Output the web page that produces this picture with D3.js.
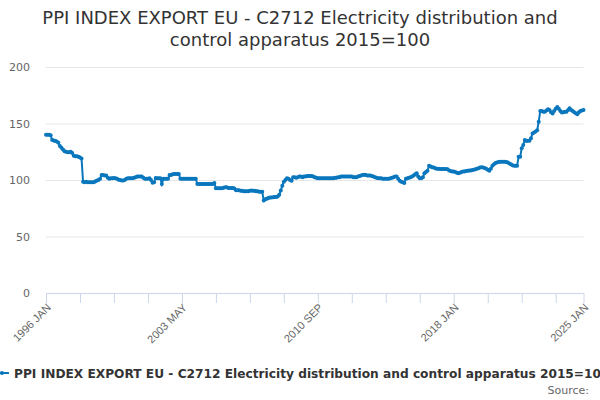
<!DOCTYPE html>
<html>
<head>
<meta charset="utf-8">
<script src="https://cdn.jsdelivr.net/npm/d3@7"></script>
<style>
  body { margin: 0; background: #fff; }
  svg { font-family: "DejaVu Sans", sans-serif; display: block; }
  .grid line { stroke: #e6e6e6; }
  .grid path { display: none; }
  .ylab text { fill: #666; font-size: 11px; }
  .xaxis path, .xaxis line { stroke: #ccd6eb; }
  .xaxis text { fill: #666; font-size: 11px; }
</style>
</head>
<body>
<div id="chart"></div>
<script>
var seriesName = "PPI INDEX EXPORT EU - C2712 Electricity distribution and control apparatus 2015=100";
var titleLines = ["PPI INDEX EXPORT EU - C2712 Electricity distribution and", "control apparatus 2015=100"];
var monthNames = ["JAN","FEB","MAR","APR","MAY","JUN","JUL","AUG","SEP","OCT","NOV","DEC"];
var startYear = 1996;
var yTicks = [0, 50, 100, 150, 200];
var labelEvery = 88;
var tickEvery = 22;

// monthly values, one row per year, 1996 JAN .. 2025 JAN
var values = [
  140,140,140,139.5,135.5,135,134.5,134,133,130,128.5,127,
  125.5,125,124.5,124.5,125,124,121.5,121,121,120.5,120,119,
  98.5,98,98.5,98,98,98,98,98,99,99.5,100,101,
  104.5,104.5,104,104,102,101,101.5,101.5,101.8,101.5,101,100.3,
  100,99.5,99.5,100,101,101.5,101.5,101.5,101.5,102,102.5,103,
  103,103,103,102,101,101,101,101.5,100,97.5,98,101.8,
  101.5,101.5,101.5,96.5,101,101,101,101,104.4,104.5,105,105.3,
  105.3,105.3,105.3,101,101,101,101,101,101,101,101,101,
  101,101,96.5,96.5,96.5,96.5,96.5,96.5,96.5,96.5,96.5,96.5,
  96.5,97.4,92.6,92.6,92.6,92.6,92.6,93.2,93.5,93.5,93,93,
  93,93,92.5,91,91,91,90.5,90.5,90,90,90,90,
  90.5,90.6,90.5,90.5,90,90,89.7,89.7,89.5,81.8,83,83.5,
  84,84.5,84.5,84.7,85,85,85.3,87,90.6,95,98.5,100,
  101.5,101,100,99.4,102.4,102.4,102,102.4,103,103,102.5,103,
  103,103.5,103.5,103.5,103.5,103,102.5,102,101.5,101.5,101.5,101.5,
  101.5,101.5,101.5,101.5,101.5,101.5,101.5,102,102,102.5,102.5,103,
  103,103,103,103,103,103,103,102.5,102.5,102.4,103,103.5,
  104,104.5,104.7,104.5,104,104,104,103.5,103,102.5,102,101.5,
  101.5,101.5,101,101,101,101,101,101.5,102,102.5,103,103,
  101,99.4,98.5,98,97.4,101,101.5,102,102.5,103,104,105,
  105.9,103,101.5,101.5,102.4,105.9,107,108.2,112.6,112,111.2,111,
  110.5,110,110,109.7,109.7,109.7,109.7,109.7,109.5,108.5,108,107.6,
  107.6,107,106.5,105.9,106.5,107,107.6,107.6,108,108.2,108.5,108.5,
  108.8,109,109.5,110,110.5,111,111.2,111,110.6,110,109,108.2,
  110,112.6,114,115,115.5,116,116.2,116.2,116.2,116.2,116,115.5,
  114.7,114,113,112.6,112.6,112.6,120.6,120.6,128,131,135.3,134.5,
  134.7,134.7,137,141.2,142,143,144,151.5,161,161,160.5,160.3,
  161.5,162.6,162,160,158.8,161,163,164.7,163,161,159.7,160,
  160.3,160.3,162,163.5,162,161,160,159,158.2,160,161,161.5,
  162
];

var categories = values.map(function (d, i) {
  return (startYear + Math.floor(i / 12)) + " " + monthNames[i % 12];
});

var W = 600, H = 400;
var plot = { l: 46, r: 583.5, t: 67, b: 293 };
var lineColor = "#0a77bd";

var svg = d3.select("#chart").append("svg")
  .attr("width", W)
  .attr("height", H);

svg.selectAll("text.title")
  .data(titleLines)
  .enter()
  .append("text")
  .attr("class", "title")
  .attr("x", W / 2)
  .attr("y", function (d, i) { return 24 + i * 22; })
  .attr("text-anchor", "middle")
  .attr("fill", "#333")
  .style("font-size", "18px")
  .text(function (d) { return d; });

var x = d3.scaleLinear().domain([0, values.length - 1]).range([plot.l, plot.r]);
var y = d3.scaleLinear().domain([0, 200]).range([plot.b, plot.t]);

// gridlines + y labels
svg.append("g")
  .attr("class", "grid")
  .attr("transform", "translate(" + plot.l + ",0)")
  .call(d3.axisLeft(y).tickValues(yTicks).tickSize(-(plot.r - plot.l)).tickFormat(""));

svg.append("g")
  .attr("class", "ylab")
  .selectAll("text")
  .data(yTicks)
  .enter()
  .append("text")
  .attr("x", 30)
  .attr("y", function (d) { return y(d) + 4; })
  .attr("text-anchor", "end")
  .text(function (d) { return d; });

// x axis
var tickIdx = d3.range(0, values.length, tickEvery);
if (tickIdx[tickIdx.length - 1] !== values.length - 1) tickIdx.push(values.length - 1);

var xAxis = svg.append("g")
  .attr("class", "xaxis")
  .attr("transform", "translate(0," + plot.b + ")")
  .call(d3.axisBottom(x).tickValues(tickIdx).tickSize(10).tickSizeOuter(0)
    .tickFormat(function (d) {
      return (d % labelEvery === 0 || d === values.length - 1) ? categories[d] : "";
    }));

xAxis.selectAll("text")
  .attr("text-anchor", "end")
  .attr("dy", null)
  .attr("transform", "translate(-4,6) rotate(-45)");

// series
var line = d3.line()
  .x(function (d, i) { return x(i); })
  .y(function (d) { return y(d); });

svg.append("path")
  .datum(values)
  .attr("d", line)
  .attr("fill", "none")
  .attr("stroke", lineColor)
  .attr("stroke-width", 2);

svg.append("g")
  .selectAll("circle")
  .data(values)
  .enter()
  .append("circle")
  .attr("cx", function (d, i) { return x(i); })
  .attr("cy", function (d) { return y(d); })
  .attr("r", 2)
  .attr("fill", lineColor);

// legend
var lg = svg.append("g").attr("transform", "translate(0,373)");
lg.append("line")
  .attr("x1", -6).attr("x2", 9)
  .attr("stroke", lineColor).attr("stroke-width", 2);
lg.append("circle").attr("cx", 2).attr("r", 2).attr("fill", lineColor);
lg.append("text")
  .attr("x", 14)
  .attr("y", 5)
  .attr("fill", "#333")
  .style("font-size", "12.2px")
  .style("font-weight", "bold")
  .text(seriesName);

svg.append("text")
  .attr("x", 589)
  .attr("y", 394)
  .attr("text-anchor", "end")
  .attr("fill", "#666")
  .style("font-size", "11px")
  .text("Source:");
</script>
</body>
</html>
